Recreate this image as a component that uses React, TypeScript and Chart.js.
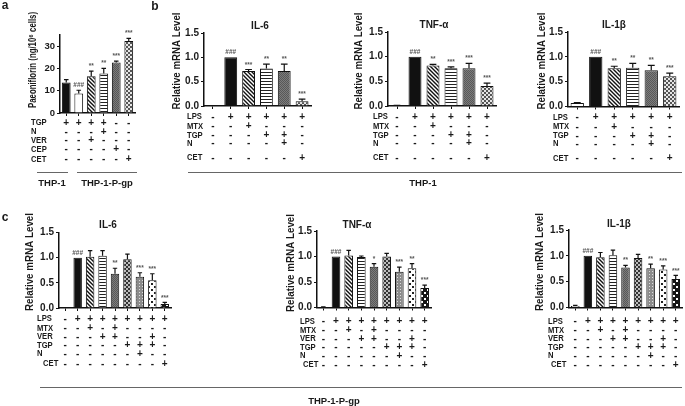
import React, { useEffect, useRef } from 'react';
import { Chart, registerables } from 'chart.js';

Chart.register(...registerables);

// ---------------- data ----------------
// Panel a
const aCategories = ['G1', 'G2', 'G3', 'G4', 'G5', 'G6'];
const aValues = [13.7, 8.7, 16.5, 17.7, 22.7, 32.3];
const aErrors = [1.3, 1.5, 2.3, 2.3, 0.6, 1.2];
const aMarks = ['', '###', '**', '**', '***', '***'];
const aRows = ['TGP', 'N', 'VER', 'CEP', 'CET'];
const aSigns = ['+ + + + - -', '- - - + - -', '- - + - - -', '- - - - + -', '- - - - - +'];
const aFills = ['black', 'white', 'diag', 'hstripe', 'grey', 'checker'];

// Panel b (THP-1)
const bCategories = ['G1', 'G2', 'G3', 'G4', 'G5', 'G6'];
const bIL6Values = [0, 1.0, 0.72, 0.77, 0.72, 0.1];
const bIL6Errors = [0, 0, 0.03, 0.09, 0.14, 0.04];
const bIL6Marks = ['', '###', '***', '**', '**', '***'];
const bTNFValues = [0.006, 1.0, 0.82, 0.765, 0.765, 0.405];
const bTNFErrors = [0.005, 0, 0.025, 0.03, 0.1, 0.06];
const bTNFMarks = ['', '###', '**', '***', '***', '***'];
const bIL1Values = [0.07, 1.0, 0.77, 0.78, 0.73, 0.61];
const bIL1Errors = [0.01, 0, 0.04, 0.09, 0.1, 0.06];
const bIL1Marks = ['', '###', '**', '**', '**', '***'];
const bRows = ['LPS', 'MTX', 'TGP', 'N', 'CET'];
const bSigns = ['- + + + + +', '- - + - - -', '- - - + + -', '- - - - + -', '- - - - - +'];
const bFills = ['white', 'black', 'diag', 'hstripe', 'grey', 'checker'];

// Panel c (THP-1-P-gp)
const cCategories = ['G1', 'G2', 'G3', 'G4', 'G5', 'G6', 'G7', 'G8', 'G9'];
const cIL6Values = [0, 1.0, 1.02, 1.04, 0.68, 0.97, 0.62, 0.55, 0.08];
const cIL6Errors = [0, 0, 0.12, 0.1, 0.11, 0.1, 0.08, 0.13, 0.03];
const cIL6Marks = ['', '###', '', '', '**', '', '***', '***', '***'];
const cTNFValues = [0.006, 1.0, 1.02, 0.99, 0.8, 1.0, 0.7, 0.77, 0.38];
const cTNFErrors = [0.005, 0, 0.1, 0.02, 0.06, 0.06, 0.09, 0.09, 0.06];
const cTNFMarks = ['', '###', '', '', '*', '', '***', '**', '***'];
const cIL1Values = [0.03, 1.0, 0.975, 1.01, 0.775, 0.96, 0.76, 0.735, 0.55];
const cIL1Errors = [0.01, 0, 0.09, 0.1, 0.04, 0.07, 0.08, 0.07, 0.07];
const cIL1Marks = ['', '###', '', '', '**', '', '**', '***', '***'];
const cRows = ['LPS', 'MTX', 'VER', 'TGP', 'N', 'CET'];
const cSigns = [
  '- + + + + + + + +',
  '- - + - + - - - -',
  '- - - + + - - + -',
  '- - - - - + + + -',
  '- - - - - - + - -',
  '- - - - - - - - +',
];
const cFills = ['white', 'black', 'diag', 'hstripe', 'grey', 'checkerDark', 'dotsGrey', 'dotsWhite', 'dotsBlack'];

const mrnaTitle = 'Relative mRNA Level';
const paeoTitle = 'Paeoniflorin (ng/10⁶ cells)';

// ---------------- drawing helpers ----------------
const W = 685;
const H = 406;
const FONT = '"Liberation Sans", Arial, Helvetica, sans-serif';
const INK = '#1a1a1a';
const YW = 30;
const XH = 4;

function makeFill(kind: string): any {
  if (kind === 'black') return '#111';
  if (kind === 'white') return '#ffffff';
  const t = document.createElement('canvas');
  const c = t.getContext('2d')!;
  const size = (w: number, h: number) => { t.width = w; t.height = h; };
  if (kind === 'diag') {
    size(4, 4);
    c.fillStyle = '#fff'; c.fillRect(0, 0, 4, 4);
    c.strokeStyle = '#111'; c.lineWidth = 1.4;
    c.beginPath();
    c.moveTo(-1, -1); c.lineTo(5, 5);
    c.moveTo(3, -1); c.lineTo(5, 1);
    c.moveTo(-1, 3); c.lineTo(1, 5);
    c.stroke();
  } else if (kind === 'hstripe') {
    size(4, 3);
    c.fillStyle = '#fff'; c.fillRect(0, 0, 4, 3);
    c.fillStyle = '#222'; c.fillRect(0, 0, 4, 1);
  } else if (kind === 'grey') {
    size(2, 2);
    c.fillStyle = '#7c7c7c'; c.fillRect(0, 0, 2, 2);
    c.fillStyle = '#585858'; c.fillRect(0, 0, 1, 1); c.fillRect(1, 1, 1, 1);
  } else if (kind === 'checker') {
    size(4, 4);
    c.fillStyle = '#e6e6e6'; c.fillRect(0, 0, 4, 4);
    c.fillStyle = '#555'; c.fillRect(0, 0, 2, 2); c.fillRect(2, 2, 2, 2);
  } else if (kind === 'checkerDark') {
    size(4, 4);
    c.fillStyle = '#bdbdbd'; c.fillRect(0, 0, 4, 4);
    c.fillStyle = '#333'; c.fillRect(0, 0, 2, 2); c.fillRect(2, 2, 2, 2);
  } else if (kind === 'dotsGrey') {
    size(3, 3);
    c.fillStyle = '#8c8c8c'; c.fillRect(0, 0, 3, 3);
    c.fillStyle = '#dcdcdc'; c.fillRect(1, 1, 1, 1);
  } else if (kind === 'dotsWhite') {
    size(6, 6);
    c.fillStyle = '#fff'; c.fillRect(0, 0, 6, 6);
    c.fillStyle = '#222'; c.fillRect(1, 1, 2, 2); c.fillRect(4, 4, 2, 2);
  } else if (kind === 'dotsBlack') {
    size(6, 6);
    c.fillStyle = '#151515'; c.fillRect(0, 0, 6, 6);
    c.fillStyle = '#fff'; c.fillRect(1, 1, 2, 2); c.fillRect(4, 4, 2, 2);
  }
  return c.createPattern(t, 'repeat');
}

type TextOpts = { size: number; align?: CanvasTextAlign; base?: CanvasTextBaseline; rot?: number; sx?: number; len?: number; color?: string; weight?: string };

function drawText(ctx: CanvasRenderingContext2D, s: string, x: number, y: number, o: TextOpts) {
  ctx.save();
  ctx.font = `${o.weight ?? 'bold'} ${o.size}px ${FONT}`;
  let sx = o.sx ?? 1;
  if (o.len) {
    const w = ctx.measureText(s).width;
    sx = Math.min(sx, o.len / w);
  }
  ctx.translate(x, y);
  if (o.rot) ctx.rotate(o.rot);
  ctx.scale(sx, 1);
  ctx.fillStyle = o.color ?? INK;
  ctx.textAlign = o.align ?? 'center';
  ctx.textBaseline = o.base ?? 'middle';
  ctx.fillText(s, 0, 0);
  ctx.restore();
}

type Layout = {
  area: [number, number, number, number];
  max: number;
  step: number;
  dec: number;
  tickSize: number;
  barPct: number;
  title?: [string, number, number];
  yTitle: [string, number, number, number, number];
  rowX: number;
  rowXLast?: number;
  rowY: number[];
  lines?: [number, number, number][];
  texts?: [string, number, number, number][];
};

type Panel = {
  categories: string[];
  values: number[];
  errors: number[];
  marks: string[];
  rows: string[];
  signs: string[];
  fills: string[];
  layout: Layout;
};

const panels: Panel[] = [
  {
    categories: aCategories, values: aValues, errors: aErrors, marks: aMarks, rows: aRows, signs: aSigns, fills: aFills,
    layout: {
      area: [60, 35, 135, 113], max: 35, step: 5, dec: 0, tickSize: 9.5, barPct: 0.7,
      yTitle: [paeoTitle, 33, 60, 96, 11], rowX: 31, rowY: [123, 132, 140.5, 149.5, 159.5],
      lines: [[37, 172, 68], [77, 172, 137]],
      texts: [['THP-1', 52, 183, 9.5], ['THP-1-P-gp', 107, 183, 9.5], ['a', 5, 6, 12]],
    },
  },
  {
    categories: bCategories, values: bIL6Values, errors: bIL6Errors, marks: bIL6Marks, rows: bRows, signs: bSigns, fills: bFills,
    layout: {
      area: [204, 33, 311, 106], max: 1.5, step: 0.5, dec: 1, tickSize: 10, barPct: 0.72,
      title: ['IL-6', 260, 26], yTitle: [mrnaTitle, 177, 61, 97, 10], rowX: 187, rowY: [117, 126.5, 135.5, 143.5, 158],
      lines: [[188, 172, 682]],
      texts: [['THP-1', 423, 183, 9.5], ['b', 155, 7, 12]],
    },
  },
  {
    categories: bCategories, values: bTNFValues, errors: bTNFErrors, marks: bTNFMarks, rows: bRows, signs: bSigns, fills: bFills,
    layout: {
      area: [388, 32, 496, 106], max: 1.5, step: 0.5, dec: 1, tickSize: 10, barPct: 0.72,
      title: ['TNF-α', 434, 25], yTitle: [mrnaTitle, 359, 61, 97, 10], rowX: 373, rowY: [117, 126.5, 135.5, 143.5, 158],
    },
  },
  {
    categories: bCategories, values: bIL1Values, errors: bIL1Errors, marks: bIL1Marks, rows: bRows, signs: bSigns, fills: bFills,
    layout: {
      area: [568, 32, 679, 106.5], max: 1.5, step: 0.5, dec: 1, tickSize: 10, barPct: 0.72,
      title: ['IL-1β', 614, 25], yTitle: [mrnaTitle, 542, 61, 97, 10], rowX: 553, rowY: [117.5, 127, 136, 144, 158.5],
    },
  },
  {
    categories: cCategories, values: cIL6Values, errors: cIL6Errors, marks: cIL6Marks, rows: cRows, signs: cSigns, fills: cFills,
    layout: {
      area: [59, 232.5, 171, 308], max: 1.5, step: 0.5, dec: 1, tickSize: 10, barPct: 0.68,
      title: ['IL-6', 108, 225], yTitle: [mrnaTitle, 30, 262, 98, 10], rowX: 37, rowXLast: 43,
      rowY: [319, 328.5, 337, 345.5, 354, 364],
      lines: [[40, 387, 682]],
      texts: [['THP-1-P-gp', 334, 401, 9.5], ['c', 5, 218, 12]],
    },
  },
  {
    categories: cCategories, values: cTNFValues, errors: cTNFErrors, marks: cTNFMarks, rows: cRows, signs: cSigns, fills: cFills,
    layout: {
      area: [317, 231, 431, 307.5], max: 1.5, step: 0.5, dec: 1, tickSize: 10, barPct: 0.68,
      title: ['TNF-α', 357, 225], yTitle: [mrnaTitle, 291, 263, 98, 10], rowX: 300, rowXLast: 303,
      rowY: [321.5, 330.5, 339, 347.5, 356, 365],
    },
  },
  {
    categories: cCategories, values: cIL1Values, errors: cIL1Errors, marks: cIL1Marks, rows: cRows, signs: cSigns, fills: cFills,
    layout: {
      area: [569, 230, 682, 307.5], max: 1.5, step: 0.5, dec: 1, tickSize: 10, barPct: 0.68,
      title: ['IL-1β', 619, 224], yTitle: [mrnaTitle, 540, 262, 98, 10], rowX: 548, rowXLast: 551,
      rowY: [321.5, 330.5, 339, 347.5, 356, 365],
    },
  },
];

function buildConfig(p: Panel): any {
  const L = p.layout;
  const [x0, yTop, x1, yBot] = L.area;
  const overlay = {
    id: 'overlay',
    afterDatasetsDraw(chart: any) {
      const ctx: CanvasRenderingContext2D = chart.ctx;
      const ys = chart.scales.y;
      const meta = chart.getDatasetMeta(0);
      ctx.save();
      ctx.strokeStyle = '#111';
      ctx.lineWidth = 1.2;
      meta.data.forEach((bar: any, i: number) => {
        const v = p.values[i];
        const e = p.errors[i];
        const yv = ys.getPixelForValue(v);
        let top = yv;
        if (e > 0) {
          const ye = ys.getPixelForValue(v + e);
          const hw = Math.max(2, bar.width * 0.26);
          ctx.beginPath();
          ctx.moveTo(bar.x, yv);
          ctx.lineTo(bar.x, ye);
          ctx.moveTo(bar.x - hw, ye);
          ctx.lineTo(bar.x + hw, ye);
          ctx.stroke();
          top = ye;
        }
        if (p.marks[i]) {
          drawText(ctx, p.marks[i], bar.x, top - 1.5, { size: 6.5, base: 'bottom', color: '#555' });
        }
      });
      ctx.restore();
    },
    afterDraw(chart: any) {
      const ctx: CanvasRenderingContext2D = chart.ctx;
      const xs = chart.scales.x;
      if (L.title) drawText(ctx, L.title[0], L.title[1], L.title[2], { size: 10 });
      const [yt, tx, ty, tl, ts] = L.yTitle;
      drawText(ctx, yt, tx, ty, { size: ts, rot: -Math.PI / 2, len: tl });
      p.rows.forEach((name, r) => {
        const lx = r === p.rows.length - 1 && L.rowXLast !== undefined ? L.rowXLast : L.rowX;
        drawText(ctx, name, lx, L.rowY[r], { size: 9, align: 'left', sx: 0.85 });
        p.signs[r].split(' ').forEach((s, i) => {
          drawText(ctx, s, xs.getPixelForValue(i), L.rowY[r], { size: 10 });
        });
      });
      (L.lines || []).forEach(([a, y, b]) => {
        ctx.save();
        ctx.strokeStyle = '#666';
        ctx.lineWidth = 1;
        ctx.beginPath();
        ctx.moveTo(a, y + 0.5);
        ctx.lineTo(b, y + 0.5);
        ctx.stroke();
        ctx.restore();
      });
      (L.texts || []).forEach(([s, x, y, sz]) => drawText(ctx, s, x, y, { size: sz }));
    },
  };
  return {
    type: 'bar',
    data: {
      labels: p.categories,
      datasets: [
        {
          data: p.values,
          backgroundColor: p.fills.map(makeFill),
          borderColor: '#111',
          borderWidth: 1,
          barPercentage: L.barPct,
          categoryPercentage: 1,
        },
      ],
    },
    plugins: [overlay],
    options: {
      animation: false,
      responsive: false,
      events: [],
      layout: { padding: { left: x0 - YW, top: yTop, right: W - x1, bottom: H - yBot - XH } },
      plugins: { legend: { display: false }, tooltip: { enabled: false }, title: { display: false } },
      scales: {
        x: {
          type: 'category',
          offset: true,
          grid: { display: true, drawOnChartArea: false, drawTicks: true, tickLength: 3, color: '#111', lineWidth: 1, offset: false },
          border: { display: true, color: '#111', width: 1.5 },
          ticks: { display: false },
          afterFit: (s: any) => { s.height = XH; },
        },
        y: {
          min: 0,
          max: L.max,
          ticks: {
            stepSize: L.step,
            color: INK,
            padding: 2,
            font: { family: FONT, size: L.tickSize, weight: 'bold' },
            callback: (v: any) => Number(v).toFixed(L.dec),
          },
          grid: { display: true, drawOnChartArea: false, drawTicks: true, tickLength: 3, color: '#111', lineWidth: 1 },
          border: { display: true, color: '#111', width: 1.5 },
          afterFit: (s: any) => { s.width = YW; },
        },
      },
    },
  };
}

function PanelChart({ panel }: { panel: Panel }) {
  const ref = useRef<HTMLCanvasElement | null>(null);
  useEffect(() => {
    if (!ref.current) return;
    const chart = new Chart(ref.current, buildConfig(panel));
    return () => chart.destroy();
  }, [panel]);
  return (
    <canvas
      ref={ref}
      width={W}
      height={H}
      style={{ position: 'absolute', left: 0, top: 0, width: W, height: H }}
    />
  );
}

export default function App() {
  useEffect(() => {
    document.body.style.margin = '0';
  }, []);
  return (
    <div style={{ position: 'absolute', left: 0, top: 0, width: W, height: H, background: '#fff', overflow: 'hidden' }}>
      {panels.map((p, i) => (
        <PanelChart key={i} panel={p} />
      ))}
    </div>
  );
}
